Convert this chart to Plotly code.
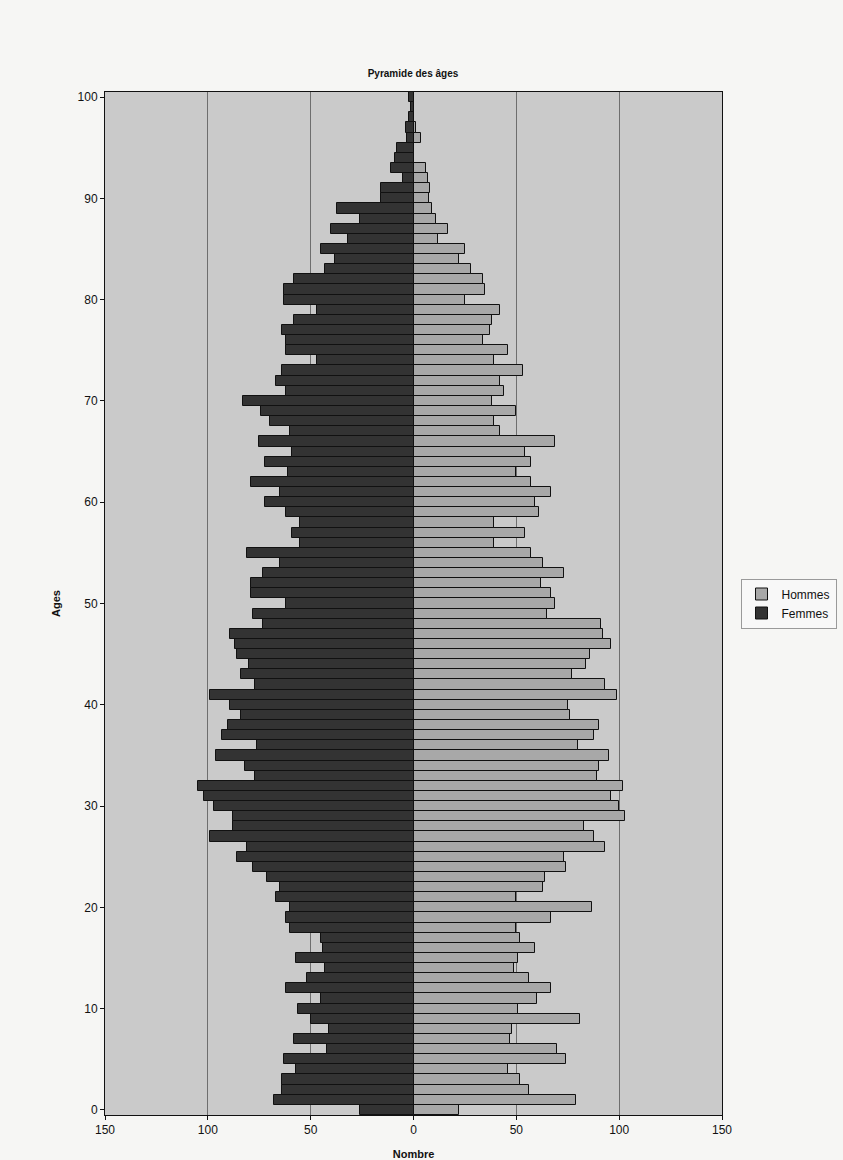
import plotly.graph_objects as go

ages = list(range(0, 101))
femmes = [26, 68, 64, 64, 57, 63, 42, 58, 41, 50,
          56, 45, 62, 52, 43, 57, 44, 45, 60, 62,
          60, 67, 65, 71, 78, 86, 81, 99, 88, 88,
          97, 102, 105, 77, 82, 96, 76, 93, 90, 84,
          89, 99, 77, 84, 80, 86, 87, 89, 73, 78,
          62, 79, 79, 73, 65, 81, 55, 59, 55, 62,
          72, 65, 79, 61, 72, 59, 75, 60, 70, 74,
          83, 62, 67, 64, 47, 62, 62, 64, 58, 47,
          63, 63, 58, 43, 38, 45, 32, 40, 26, 37,
          16, 16, 5, 11, 9, 8, 3, 3.5, 2, 1, 2]
hommes = [22, 79, 56, 52, 46, 74, 70, 47, 48, 81,
          51, 60, 67, 56, 49, 51, 59, 52, 50, 67,
          87, 50, 63, 64, 74, 73, 93, 88, 83, 103,
          100, 96, 102, 89, 90, 95, 80, 88, 90, 76,
          75, 99, 93, 77, 84, 86, 96, 92, 91, 65,
          69, 67, 62, 73, 63, 57, 39, 54, 39, 61,
          59, 67, 57, 50, 57, 54, 69, 42, 39, 50,
          38, 44, 42, 53, 39, 46, 34, 37, 38, 42,
          25, 35, 34, 28, 22, 25, 12, 17, 11, 9,
          7.5, 8, 7, 6, 0, 0, 3.5, 1, 0, 0, 0]

x_ticks = [-150, -100, -50, 0, 50, 100, 150]
x_labels = ["150", "100", "50", "0", "50", "100", "150"]
y_ticks = list(range(0, 101, 10))

FONT = "Liberation Sans, Arial, sans-serif"

fig = go.Figure()
fig.add_trace(go.Bar(
    y=ages, x=hommes, orientation="h", name="Hommes",
    marker=dict(color="#a8a8a8", line=dict(color="#111111", width=1)),
    width=1,
))
fig.add_trace(go.Bar(
    y=ages, x=[-v for v in femmes], orientation="h", name="Femmes",
    marker=dict(color="#333333", line=dict(color="#111111", width=1)),
    width=1,
))

fig.update_layout(
    width=843, height=1160,
    margin=dict(l=105, r=121, t=92, b=45, autoexpand=False),
    paper_bgcolor="#f6f6f4",
    plot_bgcolor="#cacaca",
    barmode="overlay",
    bargap=0,
    font=dict(family=FONT, size=12, color="#111111"),
    title=dict(text="<b>Pyramide des âges</b>", x=413 / 843, xanchor="center",
               y=1 - 73 / 1160, yanchor="middle",
               font=dict(family=FONT, size=10, color="#111111")),
    showlegend=True,
    legend=dict(x=1.03, xanchor="left", y=0.5, yanchor="middle",
                bgcolor="#f8f8f8", bordercolor="#9a9a9a", borderwidth=1,
                font=dict(family=FONT, size=12, color="#111111"),
                traceorder="normal", itemwidth=30,
                tracegroupgap=2),
    xaxis=dict(range=[-150, 150], tickvals=x_ticks, ticktext=x_labels,
               showgrid=True, gridcolor="#6e6e6e", gridwidth=1,
               zeroline=False, showline=True, linecolor="#111111", linewidth=1,
               mirror=True, ticks="outside", ticklen=4, tickcolor="#111111",
               title=dict(text="<b>Nombre</b>", standoff=27,
                          font=dict(family=FONT, size=11))),
    yaxis=dict(range=[-0.5, 100.5], tickvals=y_ticks,
               showgrid=False, zeroline=False, showline=True,
               linecolor="#111111", linewidth=1, mirror=True,
               ticks="outside", ticklen=4, tickcolor="#111111",
               title=dict(text="<b>Ages</b>", standoff=14,
                          font=dict(family=FONT, size=11))),
)

fig.write_html("out.html")
